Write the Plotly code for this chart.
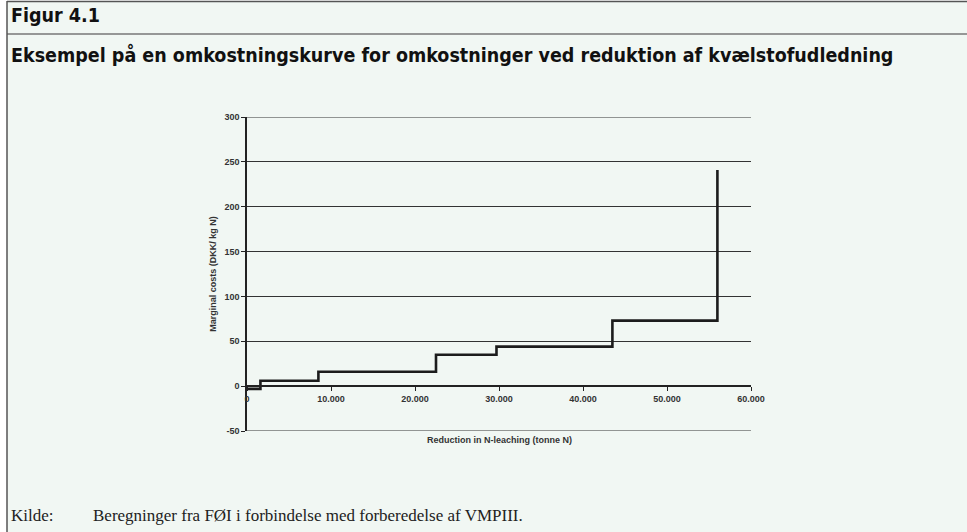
import plotly.graph_objects as go

# step curve: reduction (tonne N) where each cost level starts, and the marginal cost (DKK/kg N)
reduction = [0, 1600, 8500, 22500, 29700, 43500, 56000]
marginal_cost = [-3, 6, 16, 35, 44, 73, 241]

x_ticks = [0, 10000, 20000, 30000, 40000, 50000, 60000]
x_tick_labels = ['0', '10.000', '20.000', '30.000', '40.000', '50.000', '60.000']
y_ticks = [-50, 0, 50, 100, 150, 200, 250, 300]
y_tick_labels = ['-50', '0', '50', '100', '150', '200', '250', '300']

W, H = 967, 532
# plot area: x 0..60000 -> 247..751 px, y -50..300 -> 431..117 px
L, R, T, B = 247, 216, 117, 101
pw, ph = W - L - R, H - T - B

def px_x(p):
    return (p - L) / pw

def px_y(p):
    return (H - B - p) / ph

bg = '#F1F7F3'
axis_font = dict(size=9, family='Liberation Sans, Arial', color='#333', weight='bold')

fig = go.Figure(go.Scatter(
    x=reduction,
    y=marginal_cost,
    mode='lines',
    line=dict(color='#1c1c1c', width=2.6, shape='hv'),
    hoverinfo='skip',
    showlegend=False,
))

fig.update_layout(
    width=W, height=H,
    margin=dict(l=L, r=R, t=T, b=B),
    paper_bgcolor=bg,
    plot_bgcolor=bg,
    font=dict(family='Liberation Sans, Arial', color='#222'),
    xaxis=dict(
        range=[0, 60000],
        tickvals=x_ticks,
        ticktext=x_tick_labels,
        anchor='free',
        position=50 / 350,
        showline=True, linecolor='#222', linewidth=1.5,
        ticks='outside', ticklen=4, tickcolor='#222',
        showgrid=False, zeroline=False,
        tickfont=axis_font,
        title=None,
    ),
    yaxis=dict(
        range=[-50, 300],
        tickvals=y_ticks,
        ticktext=y_tick_labels,
        showline=True, linecolor='#222', linewidth=1.5,
        ticks='outside', ticklen=4, tickcolor='#222',
        showgrid=True, gridcolor='#333', gridwidth=1,
        zeroline=False,
        tickfont=axis_font,
        title=dict(text='Marginal costs (DKK/ kg N)', font=axis_font, standoff=6),
    ),
)

# plotly drops the gridlines at the range edges, so draw the -50 and 300 lines
for edge in [y_ticks[0], y_ticks[-1]]:
    fig.add_shape(type='line', xref='x', yref='y', layer='below',
                  x0=x_ticks[0], x1=x_ticks[-1], y0=edge, y1=edge,
                  line=dict(color='#333', width=1))

# x axis title sits below the -50 gridline
fig.add_annotation(
    text='Reduction in N-leaching (tonne N)',
    x=px_x(499), y=px_y(447), xref='paper', yref='paper',
    showarrow=False, font=axis_font,
)

# white strip left of the frame, then frame lines
fig.add_shape(type='rect', xref='paper', yref='paper', layer='below',
              x0=px_x(0), x1=px_x(7), y0=px_y(0), y1=px_y(H),
              fillcolor='white', line=dict(width=0))
fig.add_shape(type='rect', xref='paper', yref='paper', layer='below',
              x0=px_x(0), x1=px_x(W), y0=px_y(0), y1=px_y(1),
              fillcolor='white', line=dict(width=0))
fig.add_shape(type='line', xref='paper', yref='paper',
              x0=px_x(7), x1=px_x(W), y0=px_y(1.5), y1=px_y(1.5),
              line=dict(color='#555', width=1.5))
fig.add_shape(type='line', xref='paper', yref='paper',
              x0=px_x(7), x1=px_x(W), y0=px_y(34), y1=px_y(34),
              line=dict(color='#777', width=1.5))
fig.add_shape(type='line', xref='paper', yref='paper',
              x0=px_x(7), x1=px_x(7), y0=px_y(1), y1=px_y(H),
              line=dict(color='#555', width=1.5))

title_font = dict(family='DejaVu Sans Condensed, DejaVu Sans', size=19.5, color='#111', weight='bold')
fig.add_annotation(text='Figur 4.1', x=px_x(9), y=px_y(16),
                   xref='paper', yref='paper', xanchor='left', yanchor='middle',
                   showarrow=False, font=title_font)
fig.add_annotation(text='Eksempel på en omkostningskurve for omkostninger ved reduktion af kvælstofudledning',
                   x=px_x(9), y=px_y(55), xref='paper', yref='paper',
                   xanchor='left', yanchor='middle', showarrow=False, font=title_font)

src_font = dict(family='Liberation Serif, serif', size=17, color='#222')
fig.add_annotation(text='Kilde:', x=px_x(9), y=px_y(515), xref='paper', yref='paper',
                   xanchor='left', yanchor='middle', showarrow=False, font=src_font)
fig.add_annotation(text='Beregninger fra FØI i forbindelse med forberedelse af VMPIII.',
                   x=px_x(91), y=px_y(515), xref='paper', yref='paper',
                   xanchor='left', yanchor='middle', showarrow=False, font=src_font)

# drop the page's default body margin so the figure fills the window
fig.write_html('out.html', config={'displayModeBar': False},
               post_script="document.body.style.margin='0';")
